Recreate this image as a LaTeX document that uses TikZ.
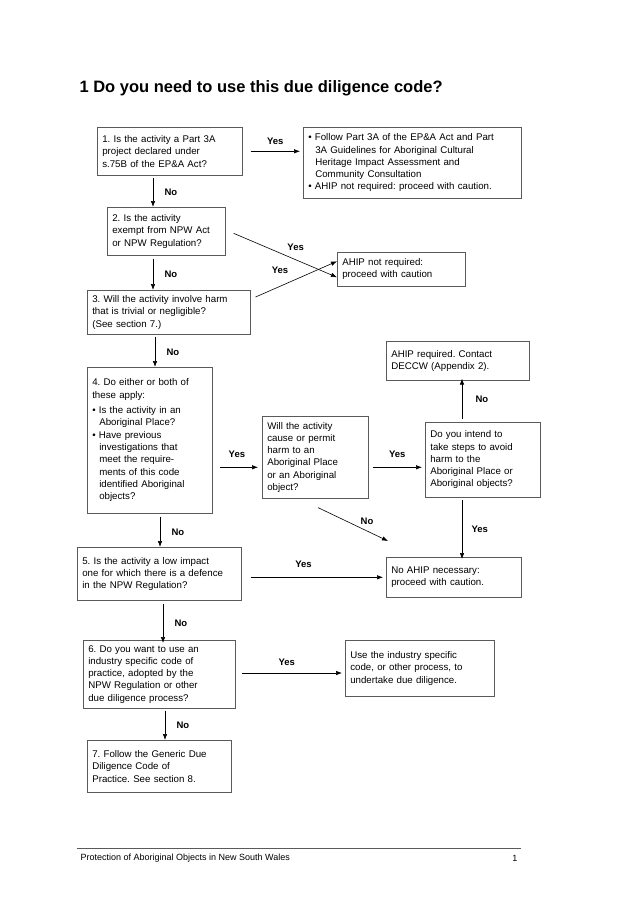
\documentclass[tikz,border=0pt]{standalone}
\usepackage{fontspec}
\setmainfont{Liberation Sans}
\usetikzlibrary{arrows.meta}
\definecolor{boxgrey}{RGB}{90,90,90}
\frenchspacing

\begin{document}
\begin{tikzpicture}[
        x=1pt, y=-1pt,
        box/.style={rectangle, draw=boxgrey, line width=0.6pt, anchor=north west, inner xsep=5pt, inner ysep=4pt, align=left, font=\fontsize{9.7}{12.3}\selectfont},
        arr/.style={-{Latex[length=6pt,width=4.5pt]}, line width=0.6pt},
        lbl/.style={font=\fontsize{9.5}{11}\selectfont\bfseries}
    ]
    \useasboundingbox (0,0) rectangle (637,902);

    % Title
    \node[anchor=west, font=\fontsize{16.5}{20}\selectfont\bfseries] (title) at (76,88) {1 Do you need to use this due diligence code?};

    % Question boxes
    \node[box, text width=135pt, minimum height=48pt] (q1) at (97,127) {1. Is the activity a Part 3A\\project declared under\\s.75B of the EP\&A Act?};
    \node[box, text width=108pt, minimum height=48pt] (q2) at (107,207) {2. Is the activity\\exempt from NPW Act\\or NPW Regulation?};
    \node[box, text width=153pt, minimum height=44pt] (q3) at (87,290) {3. Will the activity involve harm\\that is trivial or negligible?\\(See section 7.)};
    \node[box, text width=115pt, minimum height=146pt] (q4) at (87,367) {4. Do either or both of\\these apply:\\[3pt]\textbullet\ Is the activity in an\\\hspace*{7pt}Aboriginal Place?\\\textbullet\ Have previous\\\hspace*{7pt}investigations that\\\hspace*{7pt}meet the require-\\\hspace*{7pt}ments of this code\\\hspace*{7pt}identified Aboriginal\\\hspace*{7pt}objects?};
    \node[box, text width=96pt, minimum height=82pt] (q4harm) at (262,416) {Will the activity\\cause or permit\\harm to an\\Aboriginal Place\\or an Aboriginal\\object?};
    \node[box, text width=105pt, minimum height=75pt] (q4avoid) at (425,422) {Do you intend to\\take steps to avoid\\harm to the\\Aboriginal Place or\\Aboriginal objects?};
    \node[box, text width=154pt, minimum height=53pt] (q5) at (77,547) {5. Is the activity a low impact\\one for which there is a defence\\in the NPW Regulation?};
    \node[box, text width=142pt, minimum height=68pt] (q6) at (83,640) {6. Do you want to use an\\industry specific code of\\practice, adopted by the\\NPW Regulation or other\\due diligence process?};
    \node[box, text width=134pt, minimum height=52pt] (q7) at (87,740) {7. Follow the Generic Due\\Diligence Code of\\Practice. See section 8.};

    % Outcome boxes
    \node[box, text width=208pt, minimum height=71pt] (part3a) at (303,127) {\textbullet\ Follow Part 3A of the EP\&A Act and Part\\\hspace*{7pt}3A Guidelines for Aboriginal Cultural\\\hspace*{7pt}Heritage Impact Assessment and\\\hspace*{7pt}Community Consultation\\\textbullet\ AHIP not required: proceed with caution.};
    \node[box, text width=118pt, minimum height=34pt] (notreq) at (337,252) {AHIP not required:\\proceed with caution};
    \node[box, text width=133pt, minimum height=39pt] (req) at (386,341) {AHIP required. Contact\\DECCW (Appendix 2).};
    \node[box, text width=125pt, minimum height=40pt] (noahip) at (386,557) {No AHIP necessary:\\proceed with caution.};
    \node[box, text width=139pt, minimum height=56pt] (industry) at (345,640) {Use the industry specific\\code, or other process, to\\undertake due diligence.};

    % Yes flows
    \draw[arr] ([xshift=8pt]q1.east) -- ([xshift=-3pt]part3a.west |- q1.east) node[lbl, midway, above=3pt] {Yes};
    \draw[arr] ([xshift=8pt, yshift=-2pt]q2.east) -- ([yshift=-8pt]notreq.west) node[lbl, pos=0.6, above=5pt] {Yes};
    \draw[arr] ([xshift=5pt, yshift=-7pt]q3.north east) -- ([yshift=8pt]notreq.west) node[lbl, pos=0.3, above=9pt] {Yes};
    \draw[arr] ([xshift=7pt, yshift=-10pt]q4.east |- q4harm.west) -- ([xshift=-4pt, yshift=-10pt]q4harm.west) node[lbl, pos=0.45, above=6pt] {Yes};
    \draw[arr] ([xshift=4pt, yshift=-10pt]q4harm.east) -- ([xshift=-3pt, yshift=-10pt]q4avoid.west |- q4harm.east) node[lbl, midway, above=6pt] {Yes};
    \draw[arr] ([xshift=37pt, yshift=-2pt]q4avoid.south west) -- ([xshift=76pt, yshift=-2pt]noahip.north west) node[lbl, pos=0.5, right=6pt] {Yes};
    \draw[arr] ([xshift=9pt]q5.east |- noahip.west) -- ([xshift=-3pt]noahip.west) node[lbl, pos=0.4, above=6pt] {Yes};
    \draw[arr] ([xshift=6pt]q6.east |- 0,673) -- ([xshift=-3pt]industry.west |- 0,673) node[lbl, pos=0.45, above=4pt] {Yes};

    % No flows
    \draw[arr] ([xshift=56pt, yshift=-2pt]q1.south west) -- ([xshift=46pt]q2.north west) node[lbl, midway, right=8pt] {No};
    \draw[arr] ([xshift=46pt, yshift=-3pt]q2.south west) -- ([xshift=66pt]q3.north west) node[lbl, midway, right=8pt] {No};
    \draw[arr] ([xshift=68pt, yshift=-2pt]q3.south west) -- ([xshift=68pt]q4.north west) node[lbl, midway, right=8pt] {No};
    \draw[arr] ([xshift=37pt, yshift=3pt]q4avoid.north west) -- ([xshift=76pt, yshift=2pt]req.south west) node[lbl, midway, right=10pt] {No};
    \draw[arr] ([xshift=56pt, yshift=-9pt]q4harm.south west) -- ([xshift=2pt, yshift=16pt]noahip.north west) node[lbl, pos=0.7, above=3pt] {No};
    \draw[arr] ([xshift=73pt, yshift=-3pt]q4.south west) -- ([xshift=83pt]q5.north west) node[lbl, midway, right=8pt] {No};
    \draw[arr] ([xshift=86pt, yshift=-3pt]q5.south west) -- ([xshift=80pt, yshift=-3pt]q6.north west) node[lbl, midway, right=8pt] {No};
    \draw[arr] ([xshift=82pt, yshift=-2pt]q6.south west) -- ([xshift=78pt]q7.north west) node[lbl, midway, right=8pt] {No};

    % Footer
    \draw[line width=0.5pt, boxgrey] (77,848) coordinate (footl) -- (521,848) coordinate (footr);
    \node[anchor=west, font=\fontsize{9}{10}\selectfont] (footer) at (77,858) {Protection of Aboriginal Objects in New South Wales};
    \node[anchor=east, font=\fontsize{9}{10}\selectfont] (pageno) at (521,858) {1};
\end{tikzpicture}
\end{document}
